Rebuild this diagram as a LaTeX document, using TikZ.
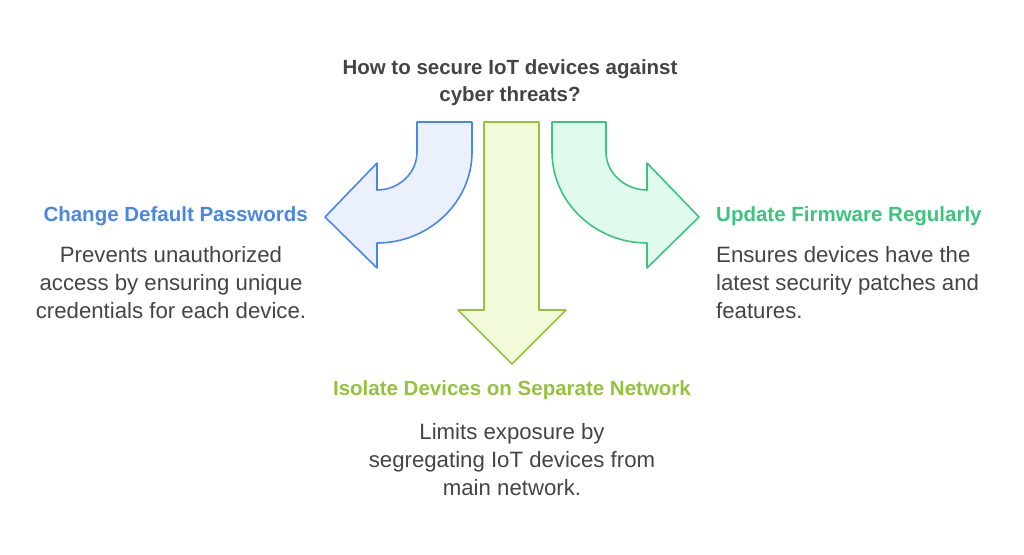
\documentclass[tikz,border=0pt]{standalone}
\usepackage{fontspec}
\setmainfont{Liberation Sans}
\definecolor{bl}{HTML}{4A86E8}
\definecolor{blf}{HTML}{EAF1FD}
\definecolor{gr}{HTML}{3CC47C}
\definecolor{grf}{HTML}{E0FAEE}
\definecolor{ol}{HTML}{95C23D}
\definecolor{olf}{HTML}{F2FCDB}
\definecolor{tx}{HTML}{444444}
\begin{document}
\begin{tikzpicture}[x=1pt,y=-1pt,
  hd/.style={font=\bfseries\fontsize{20.5}{27}\selectfont},
  bd/.style={font=\fontsize{22.2}{28}\selectfont,text=tx,align=center,inner sep=0pt},
  arr/.style={line width=1.6pt,line join=round}]
\useasboundingbox (0,0) rectangle (1024,554);
% blue arrow
\draw[arr,draw=bl,fill=blf] (417,122) -- (472,122) -- (472,152) .. controls (472,202) and (429,243) .. (377,243) -- (377,268) -- (325,217) -- (377,163) -- (377,190) .. controls (399,190) and (417,173) .. (417,152) -- cycle;
% green arrow
\draw[arr,draw=gr,fill=grf] (606,122) -- (552,122) -- (552,152) .. controls (552,202) and (595,243) .. (647,243) -- (647,268) -- (699,217) -- (647,163) -- (647,190) .. controls (625,190) and (606,173) .. (606,152) -- cycle;
% olive arrow
\draw[arr,draw=ol,fill=olf] (484,122) -- (539,122) -- (539,310) -- (566,310) -- (512,364) -- (458,310) -- (484,310) -- cycle;
\node[hd,text=tx,align=center] (t) at (510,83) {How to secure IoT devices against\\cyber threats?};
\node[hd,text=bl,anchor=east,inner sep=0pt] (h1) at (308,216) {Change Default Passwords};
\node[bd,anchor=north] (b1) at (171,246) {Prevents unauthorized\\access by ensuring unique\\credentials for each device.};
\node[hd,text=gr,anchor=west,inner sep=0pt] (h2) at (716,216) {Update Firmware Regularly};
\node[bd,anchor=north west,align=left] (b2) at (716,246) {Ensures devices have the\\latest security patches and\\features.};
\node[hd,text=ol] (h3) at (512,390) {Isolate Devices on Separate Network};
\node[bd,anchor=north] (b3) at (512,423) {Limits exposure by\\segregating IoT devices from\\main network.};
\end{tikzpicture}
\end{document}
